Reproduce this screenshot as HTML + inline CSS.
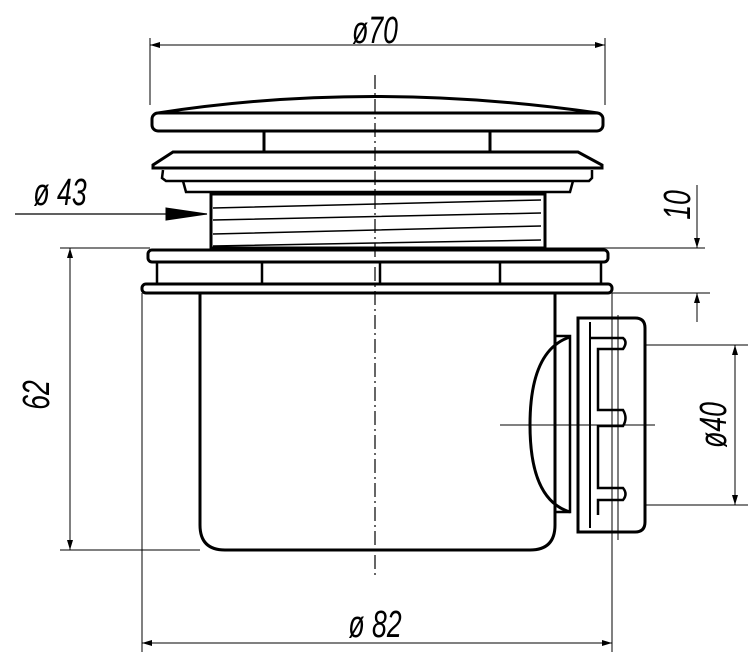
<!DOCTYPE html>
<html><head><style>html,body{margin:0;padding:0;background:#fff}svg{display:block}</style></head><body>
<svg width="752" height="660" viewBox="0 0 752 660" xmlns="http://www.w3.org/2000/svg">
<defs><marker id="a" markerWidth="10" markerHeight="6" refX="10" refY="3" orient="auto" markerUnits="userSpaceOnUse"><path d="M0,0L10,3L0,6z" fill="#000"/></marker>
<marker id="b" markerWidth="10" markerHeight="6" refX="0" refY="3" orient="auto" markerUnits="userSpaceOnUse"><path d="M10,0L0,3L10,6z" fill="#000"/></marker></defs>
<g fill="none" stroke="#000">
<line x1="375" y1="75" x2="375" y2="575" stroke-width="1.2" stroke-dasharray="14,4,2,4"/>
<line x1="150" y1="38" x2="150" y2="105" stroke-width="1"/>
<line x1="605" y1="38" x2="605" y2="105" stroke-width="1"/>
<line x1="150" y1="45" x2="605" y2="45" stroke-width="1" marker-start="url(#b)" marker-end="url(#a)"/>
<path d="M158,113 Q370,80 598,113" stroke-width="3"/>
<rect x="152" y="113" width="451" height="18" rx="6" stroke-width="3"/>
<line x1="264" y1="131" x2="264" y2="151" stroke-width="3"/>
<line x1="490" y1="131" x2="490" y2="151" stroke-width="3"/>
<path d="M173,152 L578,152 L602,165 L602,168 L153,168 L153,165 Z" stroke-width="3"/>
<path d="M163,170 L162,178 L166,181 L589,181 L592,178 L592,170" stroke-width="2.5"/>
<path d="M183,181 L186,192 L570,192 L573,181" stroke-width="2.5"/>
<rect x="211" y="194" width="334" height="54" stroke-width="3"/>
<path d="M213,208 L541,200 M213,220 L541,213 M213,234 L541,226 M213,246 L541,240" stroke-width="1.5"/>
<line x1="15" y1="214" x2="207" y2="214" stroke-width="1.2"/>
<path d="M166,208 L207,214 L166,220z" fill="#000"/>
<rect x="148" y="250" width="460" height="12" rx="4" stroke-width="3"/>
<path d="M157,262V284M262,262V284M380,262V284M500,262V284M601,262V284" stroke-width="2.5"/>
<rect x="142" y="284" width="470" height="9" rx="4" stroke-width="3"/>
<path d="M200,294 V525 Q200,550 225,550 H530 Q555,550 555,525 V294" stroke-width="3"/>
<path d="M570,337 Q530,350 530,425 Q530,500 570,512" stroke-width="3"/>
<path d="M555,336 H570 V512 H555" stroke-width="2.5"/>
<path d="M578,318 H635 Q645,318 645,328 V522 Q645,532 635,532 H578 Z" stroke-width="3"/>
<path d="M590,322 V528" stroke-width="2"/>
<path d="M590,338 H623 Q628,342 623,349 H598 V410 H623 Q628,418 623,426 H598 V488 H623 Q628,494 623,500 H598 V515" stroke-width="2.5"/>
<line x1="500" y1="425" x2="655" y2="425" stroke-width="1"/>
<line x1="618" y1="315" x2="618" y2="540" stroke-width="1"/>
<line x1="545" y1="248" x2="705" y2="248" stroke-width="1"/>
<line x1="612" y1="293" x2="710" y2="293" stroke-width="1"/>
<line x1="697" y1="185" x2="697" y2="248" stroke-width="1" marker-end="url(#a)"/>
<line x1="697" y1="322" x2="697" y2="293" stroke-width="1" marker-end="url(#a)"/>
<line x1="645" y1="345" x2="748" y2="345" stroke-width="1"/>
<line x1="645" y1="505" x2="748" y2="505" stroke-width="1"/>
<line x1="735" y1="345" x2="735" y2="505" stroke-width="1" marker-start="url(#b)" marker-end="url(#a)"/>
<line x1="60" y1="248" x2="150" y2="248" stroke-width="1"/>
<line x1="60" y1="550" x2="200" y2="550" stroke-width="1"/>
<line x1="70" y1="248" x2="70" y2="550" stroke-width="1" marker-start="url(#b)" marker-end="url(#a)"/>
<line x1="142" y1="293" x2="142" y2="652" stroke-width="1"/>
<line x1="612" y1="293" x2="612" y2="652" stroke-width="1"/>
<line x1="142" y1="643" x2="612" y2="643" stroke-width="1" marker-start="url(#b)" marker-end="url(#a)"/>
</g>
<g font-family="Liberation Sans, sans-serif" font-style="italic" font-size="38" fill="#000" text-anchor="middle">
<text transform="translate(375,43) scale(0.7,1)">ø70</text>
<text transform="translate(60,205) scale(0.7,1)">ø 43</text>
<text transform="translate(375,637) scale(0.7,1)">ø 82</text>
<text transform="translate(690,205) rotate(-90) scale(0.7,1)">10</text>
<text transform="translate(726,425) rotate(-90) scale(0.7,1)">ø40</text>
<text transform="translate(49,395) rotate(-90) scale(0.7,1)">62</text>
</g>
</svg>
</body></html>
